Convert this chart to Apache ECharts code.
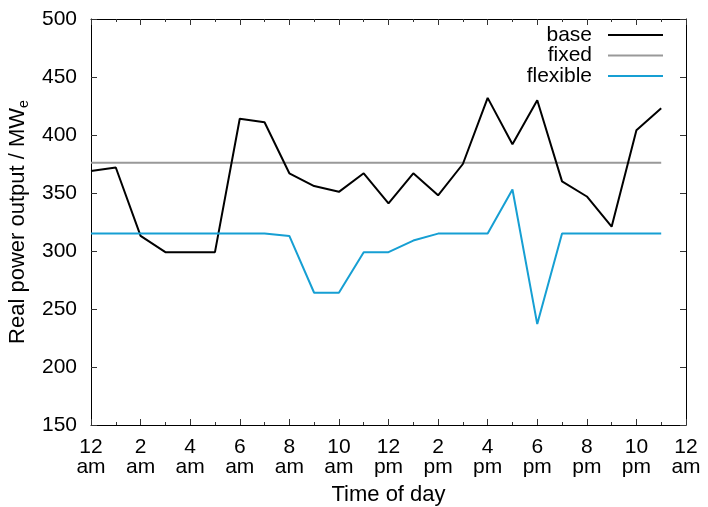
<!DOCTYPE html>
<html>
<head>
<meta charset="utf-8">
<script src="https://cdn.jsdelivr.net/npm/echarts@6/dist/echarts.min.js"></script>
<style>
html,body{margin:0;padding:0;background:#fff;}
#chart{width:708px;height:507px;}
</style>
</head>
<body>
<div id="chart"></div>
<script>
var hours = [0,1,2,3,4,5,6,7,8,9,10,11,12,13,14,15,16,17,18,19,20,21,22,23];
var baseValues = [369,372,313,299,299,299,414,411,367,356,351,367,341,367,348,375,432,392,430,360,347,321,404,423];
var fixedValues = [376,376,376,376,376,376,376,376,376,376,376,376,376,376,376,376,376,376,376,376,376,376,376,376];
var flexibleValues = [315,315,315,315,315,315,315,315,313,264,264,299,299,309,315,315,315,353,237,315,315,315,315,315];
var xTickLabels = {0:'12\nam',2:'2\nam',4:'4\nam',6:'6\nam',8:'8\nam',10:'10\nam',12:'12\npm',14:'2\npm',16:'4\npm',18:'6\npm',20:'8\npm',22:'10\npm',24:'12\nam'};
var seriesNames = ['base','fixed','flexible'];
var seriesColors = ['#000000','#999999','#169fd3'];

function pairs(vals){ return hours.map(function(h,i){ return [h, vals[i]]; }); }

var FONT = 'Liberation Sans, Arial, sans-serif';
var chart = echarts.init(document.getElementById('chart'), null, {renderer:'canvas'});

function legendFor(i, top){
  return {
    data:[seriesNames[i]], right:45, top:top, padding:0, align:'right',
    icon:'rect', itemWidth:55, itemHeight:2,
    textStyle:{fontFamily:FONT, fontSize:21, color:'#000', padding:[0,11,0,0]},
    selectedMode:false
  };
}

var option = {
  animation:false,
  backgroundColor:'#fff',
  grid:{left:91, right:22, top:19, bottom:82, containLabel:false, outerBoundsMode:'none'},
  legend:[legendFor(0,24.5), legendFor(1,45), legendFor(2,65.5)],
  xAxis:[{
    type:'value', min:0, max:24, interval:2,
    name:'Time of day', nameLocation:'middle', nameGap:59,
    nameTextStyle:{fontFamily:FONT, fontSize:22, color:'#000'},
    axisLine:{show:true, onZero:false, lineStyle:{color:'#000', width:1}},
    axisTick:{show:true, inside:true, length:6, lineStyle:{color:'#333'}},
    minorTick:{show:true, splitNumber:2, length:3, lineStyle:{color:'#333'}},
    splitLine:{show:false},
    axisLabel:{fontFamily:FONT, fontSize:21, color:'#000', lineHeight:20, margin:12,
      showMinLabel:true, showMaxLabel:true,
      formatter:function(v){ return xTickLabels[v] || ''; }}
  },{
    type:'value', min:0, max:24, interval:2, position:'top',
    axisLine:{show:true, onZero:false, lineStyle:{color:'#000', width:1}},
    axisTick:{show:true, inside:true, length:6, lineStyle:{color:'#333'}},
    minorTick:{show:true, splitNumber:2, length:3, lineStyle:{color:'#333'}},
    splitLine:{show:false}, axisLabel:{show:false}
  }],
  yAxis:[{
    type:'value', min:150, max:500, interval:50,
    name:'Real power output / MW{e|e}', nameLocation:'middle', nameGap:60,
    nameTextStyle:{fontFamily:FONT, fontSize:22, color:'#000', lineHeight:26,
      rich:{e:{fontFamily:FONT, fontSize:14, color:'#000', verticalAlign:'bottom', lineHeight:26}}},
    axisLine:{show:true, onZero:false, lineStyle:{color:'#000', width:1}},
    axisTick:{show:true, inside:true, length:6, lineStyle:{color:'#333'}},
    splitLine:{show:false},
    axisLabel:{fontFamily:FONT, fontSize:21, color:'#000', margin:14, padding:[0,0,2,0]}
  },{
    type:'value', min:150, max:500, interval:50, position:'right',
    axisLine:{show:true, onZero:false, lineStyle:{color:'#000', width:1}},
    axisTick:{show:true, inside:true, length:6, lineStyle:{color:'#333'}},
    splitLine:{show:false}, axisLabel:{show:false}
  }],
  series:[
    {name:seriesNames[0], type:'line', data:pairs(baseValues), showSymbol:false, symbol:'none',
     lineStyle:{color:seriesColors[0], width:2}, itemStyle:{color:seriesColors[0]}, z:3},
    {name:seriesNames[1], type:'line', data:pairs(fixedValues), showSymbol:false, symbol:'none',
     lineStyle:{color:seriesColors[1], width:2}, itemStyle:{color:seriesColors[1]}, z:2},
    {name:seriesNames[2], type:'line', data:pairs(flexibleValues), showSymbol:false, symbol:'none',
     lineStyle:{color:seriesColors[2], width:2}, itemStyle:{color:seriesColors[2]}, z:4}
  ]
};
chart.setOption(option);
</script>
</body>
</html>
